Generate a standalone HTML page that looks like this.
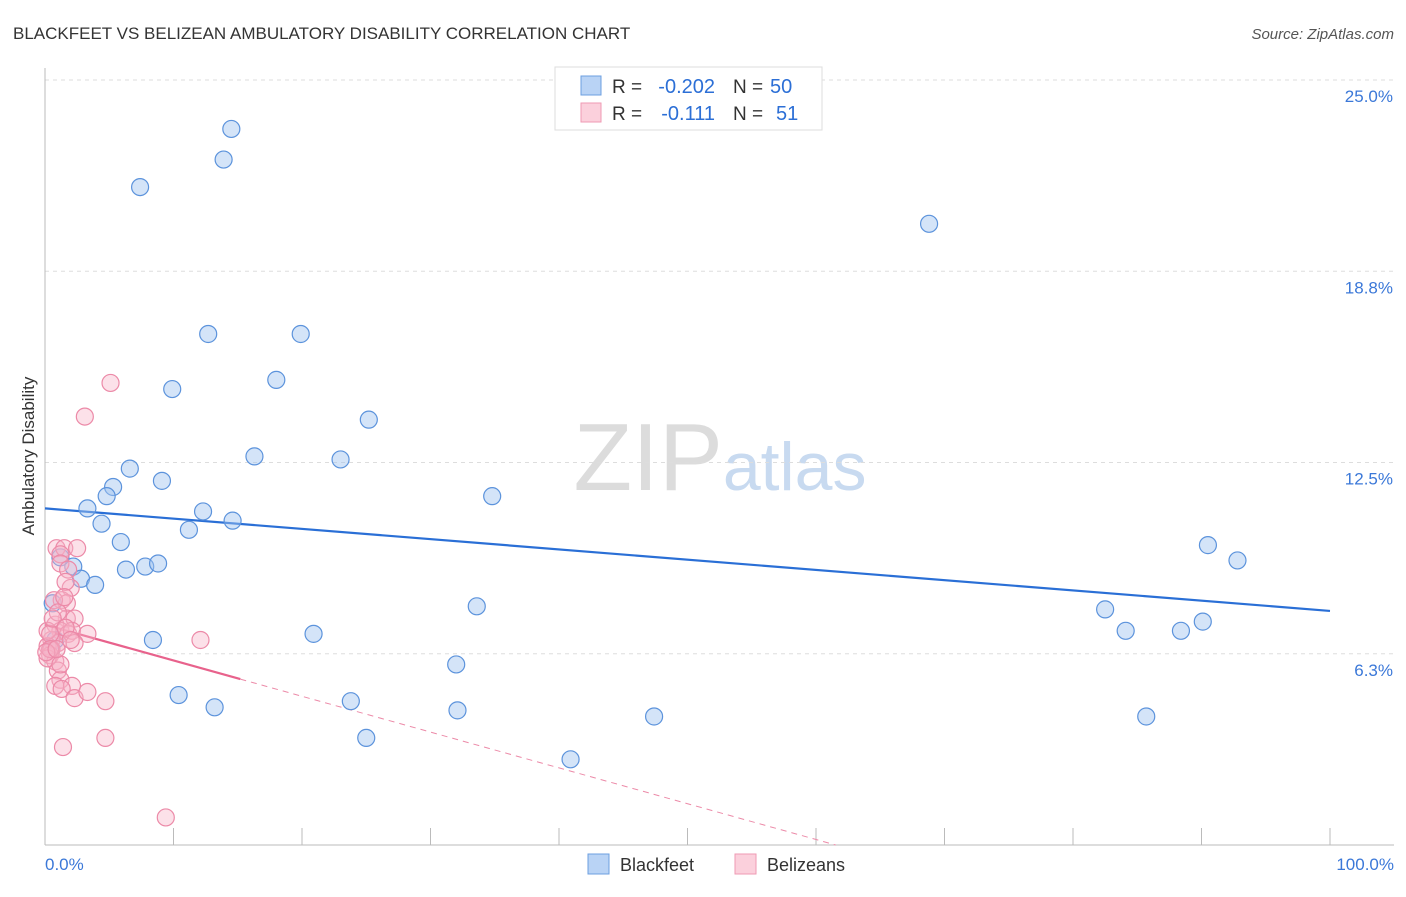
<!DOCTYPE html>
<html><head><meta charset="utf-8"><style>
body{margin:0;background:#fff;font-family:"Liberation Sans",sans-serif}
svg text{font-family:"Liberation Sans",sans-serif}
</style></head><body>
<svg id="chart" width="1406" height="892" xmlns="http://www.w3.org/2000/svg">
<text x="13" y="39" font-size="17" fill="#333">BLACKFEET VS BELIZEAN AMBULATORY DISABILITY CORRELATION CHART</text>
<text x="1394" y="39" font-size="15" fill="#555" text-anchor="end" font-style="italic">Source: ZipAtlas.com</text>
<text x="720" y="490" font-size="96" text-anchor="middle" font-family="Liberation Serif"><tspan fill="#dcdcdc">ZIP</tspan><tspan fill="#c8daf0" font-family="Liberation Sans" font-size="68">atlas</tspan></text>
<g id="grid"></g><g id="axes"></g><g id="trend"></g><g id="pts"></g>
<text transform="translate(34,456) rotate(-90)" font-size="17" fill="#333" text-anchor="middle">Ambulatory Disability</text>
<text x="45" y="870" font-size="17" fill="#3b78d8">0.0%</text>
<text x="1394" y="870" font-size="17" fill="#3b78d8" text-anchor="end">100.0%</text>
<g>
<rect x="555" y="67" width="267" height="63" fill="#fff" stroke="#ddd"/>
<rect x="581" y="76" width="20" height="19" fill="#b9d3f5" stroke="#6c9fe0"/>
<rect x="581" y="103" width="20" height="19" fill="#fbd0dc" stroke="#ef9ab3"/>
<text x="612" y="93" font-size="19" fill="#333">R =</text>
<text x="715" y="93" font-size="20" fill="#2c6fd6" text-anchor="end">-0.202</text>
<text x="733" y="93" font-size="19" fill="#333">N =</text>
<text x="770" y="93" font-size="20" fill="#2c6fd6">50</text>
<text x="612" y="120" font-size="19" fill="#333">R =</text>
<text x="715" y="120" font-size="20" fill="#2c6fd6" text-anchor="end">-0.111</text>
<text x="733" y="120" font-size="19" fill="#333">N =</text>
<text x="776" y="120" font-size="20" fill="#2c6fd6">51</text>
</g>
<g>
<rect x="588" y="854" width="21" height="20" fill="#b9d3f5" stroke="#6c9fe0"/>
<text x="620" y="871" font-size="18" fill="#333">Blackfeet</text>
<rect x="735" y="854" width="21" height="20" fill="#fbd0dc" stroke="#ef9ab3"/>
<text x="767" y="871" font-size="18" fill="#333">Belizeans</text>
</g>
</svg>
<script>
const yTicks=[6.25,12.5,18.75,25];
const yTickLabels=["6.3%","12.5%","18.8%","25.0%"];
const blackfeetX=[7.4,14.5,13.9,68.8,12.7,19.9,9.9,18.0,25.2,16.3,23.0,6.6,9.1,5.3,4.8,3.3,34.8,12.3,14.6,4.4,11.2,5.9,6.3,7.8,8.8,2.2,2.8,3.9,90.5,92.8,33.6,82.5,84.1,88.4,90.1,8.4,20.9,32.0,10.4,13.2,23.8,32.1,47.4,85.7,25.0,40.9,1.2,0.6,0.8,0.5];
const blackfeetY=[21.5,23.4,22.4,20.3,16.7,16.7,14.9,15.2,13.9,12.7,12.6,12.3,11.9,11.7,11.4,11.0,11.4,10.9,10.6,10.5,10.3,9.9,9.0,9.1,9.2,9.1,8.7,8.5,9.8,9.3,7.8,7.7,7.0,7.0,7.3,6.7,6.9,5.9,4.9,4.5,4.7,4.4,4.2,4.2,3.5,2.8,9.4,7.9,6.7,6.4];
const belizeansX=[5.1,3.1,0.9,1.5,2.5,1.2,1.2,1.8,2.0,1.3,1.7,1.6,1.7,2.3,0.7,0.8,1.2,1.8,2.1,3.3,0.5,1.0,2.3,0.2,0.5,0.4,0.8,0.2,1.0,1.2,0.8,2.1,1.3,2.3,3.3,4.7,1.4,4.7,9.4,12.1,0.2,0.4,1.0,0.6,1.6,0.4,0.1,1.2,2.0,1.5,0.9];
const belizeansY=[15.1,14.0,9.7,9.7,9.7,9.5,9.2,9.0,8.4,8.0,7.9,8.6,7.4,7.4,8.0,7.2,7.0,6.9,7.0,6.9,6.7,6.6,6.6,6.5,6.4,6.2,6.0,6.1,5.7,5.4,5.2,5.2,5.1,4.8,5.0,4.7,3.2,3.5,0.9,6.7,7.0,6.9,7.6,7.4,7.1,6.4,6.3,5.9,6.7,8.1,6.4];
const trendIntercepts=[11.0,7.2];
const trendSlopes=[-0.0335,-0.117];
const NS="http://www.w3.org/2000/svg";
const X0=45,X1=1330,Y0=845,YTOP=80;
const sx=v=>X0+(X1-X0)*v/100;
const sy=v=>Y0-(Y0-YTOP)*v/25;
function mk(tag,parent,attrs){const e=document.createElementNS(NS,tag);for(const k in attrs)e.setAttribute(k,attrs[k]);document.getElementById(parent).appendChild(e);return e;}
yTicks.forEach((t,i)=>{
 const l=mk('line','grid',{x1:X0,x2:1394,y1:sy(t),y2:sy(t),stroke:'#ddd','stroke-dasharray':'4,4'});
 
 
 const tx=mk('text','grid',{x:1393,y:sy(t)+22,'font-size':17,fill:'#3b78d8','text-anchor':'end'});
 tx.textContent=yTickLabels[i];
 
 
});
const ax=mk('line','axes',{x1:X0,x2:X0,y1:68,y2:Y0,stroke:'#bbb'});


const bx=mk('line','axes',{x1:X0,x2:1394,y1:Y0,y2:Y0,stroke:'#bbb'});


for(let i=1;i<=10;i++){const t=mk('line','axes',{x1:sx(i*10),x2:sx(i*10),y1:828,y2:Y0,stroke:'#bbb'});
 
 }
function pts(xs,ys,fill,stroke,name){xs.forEach((x,i)=>{const c=mk('circle','pts',{cx:sx(x),cy:sy(ys[i]),r:8.5,fill:fill,stroke:stroke,'stroke-width':1.2});
 
 });}
pts(blackfeetX,blackfeetY,'rgba(160,195,240,0.45)','#5c93dc','blackfeet-point');
pts(belizeansX,belizeansY,'rgba(248,180,200,0.4)','#ec8aa8','belizeans-point');
const b=mk('line','trend',{x1:sx(0),y1:sy(trendIntercepts[0]),x2:sx(100),y2:sy(trendIntercepts[0]+trendSlopes[0]*100),stroke:'#2a6fd6','stroke-width':2.2});


const pEnd=15.2,pZero=-trendIntercepts[1]/trendSlopes[1];
const p=mk('line','trend',{x1:sx(0),y1:sy(trendIntercepts[1]),x2:sx(pEnd),y2:sy(trendIntercepts[1]+trendSlopes[1]*pEnd),stroke:'#e8628c','stroke-width':2.2});


const pd=mk('line','trend',{x1:sx(pEnd),y1:sy(trendIntercepts[1]+trendSlopes[1]*pEnd),x2:sx(pZero),y2:sy(0),stroke:'#ec8aa8','stroke-width':1,'stroke-dasharray':'6,5'});


</script>
</body></html>
